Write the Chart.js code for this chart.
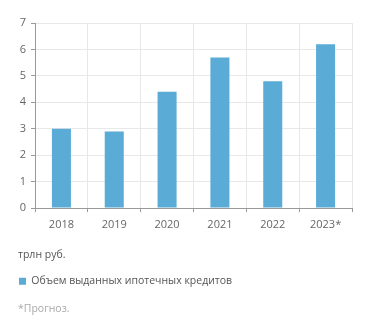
<!DOCTYPE html>
<html>
<head>
<meta charset="utf-8">
<script src="https://cdn.jsdelivr.net/npm/chart.js@4/dist/chart.umd.min.js"></script>
<style>
    html, body { margin: 0; padding: 0; background: #fff; }
    #wrap { width: 371px; height: 330px; }
</style>
</head>
<body>
<div id="wrap"><canvas id="mortgageChart" width="371" height="330"></canvas></div>
<script>
// данные графика
const years = ['2018', '2019', '2020', '2021', '2022', '2023*'];
const mortgageVolume = [3.0, 2.9, 4.4, 5.7, 4.8, 6.2];
const yTicks = [0, 1, 2, 3, 4, 5, 6, 7];
const seriesLabel = 'Объем выданных ипотечных кредитов';
const unitLabel = 'трлн руб.';
const footnote = '*Прогноз.';

document.addEventListener('DOMContentLoaded', function() {
    'use strict';
    initMortgageChart();
});

function initMortgageChart() {
    const canvas = document.getElementById('mortgageChart');
    if (!canvas || !window.Chart) return;

    Chart.defaults.font.family = '"Open Sans", sans-serif';
    Chart.defaults.font.size = 11;
    Chart.defaults.color = '#666';

    new Chart(canvas.getContext('2d'), {
        type: 'bar',
        data: {
            labels: years,
            datasets: [{
                label: seriesLabel,
                data: mortgageVolume,
                backgroundColor: '#5aabd5',
                borderWidth: 0,
                categoryPercentage: 1,
                barPercentage: 0.36
            }]
        },
        options: {
            responsive: false,
            animation: false,
            layout: {
                padding: { left: 18, right: 19, top: 23, bottom: 15 }
            },
            plugins: {
                title: {
                    display: true,
                    text: unitLabel,
                    position: 'bottom',
                    align: 'start',
                    weight: 500,
                    color: '#555',
                    font: { size: 10.5, weight: 'normal' },
                    padding: { top: 11, bottom: 14 }
                },
                legend: {
                    position: 'bottom',
                    align: 'start',
                    labels: {
                        boxWidth: 7,
                        boxHeight: 7,
                        padding: 1,
                        color: '#555',
                        font: { size: 10.5 }
                    }
                },
                subtitle: {
                    display: true,
                    text: footnote,
                    position: 'bottom',
                    align: 'start',
                    weight: 1500,
                    color: '#aaa',
                    font: { size: 10.5 },
                    padding: { top: 6, bottom: 0 }
                },
                tooltip: { enabled: false }
            },
            scales: {
                x: {
                    grid: {
                        offset: true,
                        color: '#e8e8e8',
                        tickColor: '#999',
                        tickLength: 4
                    },
                    border: { color: '#999' },
                    ticks: { padding: 6, color: '#666' }
                },
                y: {
                    min: 0,
                    max: 7,
                    afterBuildTicks: function(axis) {
                        axis.ticks = yTicks.map(v => ({ value: v }));
                    },
                    // ширина оси как в оригинале
                    afterFit: function(axis) {
                        axis.width = 17;
                    },
                    grid: {
                        color: '#e8e8e8',
                        tickColor: '#999',
                        tickLength: 4
                    },
                    border: { color: '#999' },
                    ticks: { padding: 5, color: '#666' }
                }
            }
        }
    });
}
</script>
</body>
</html>
